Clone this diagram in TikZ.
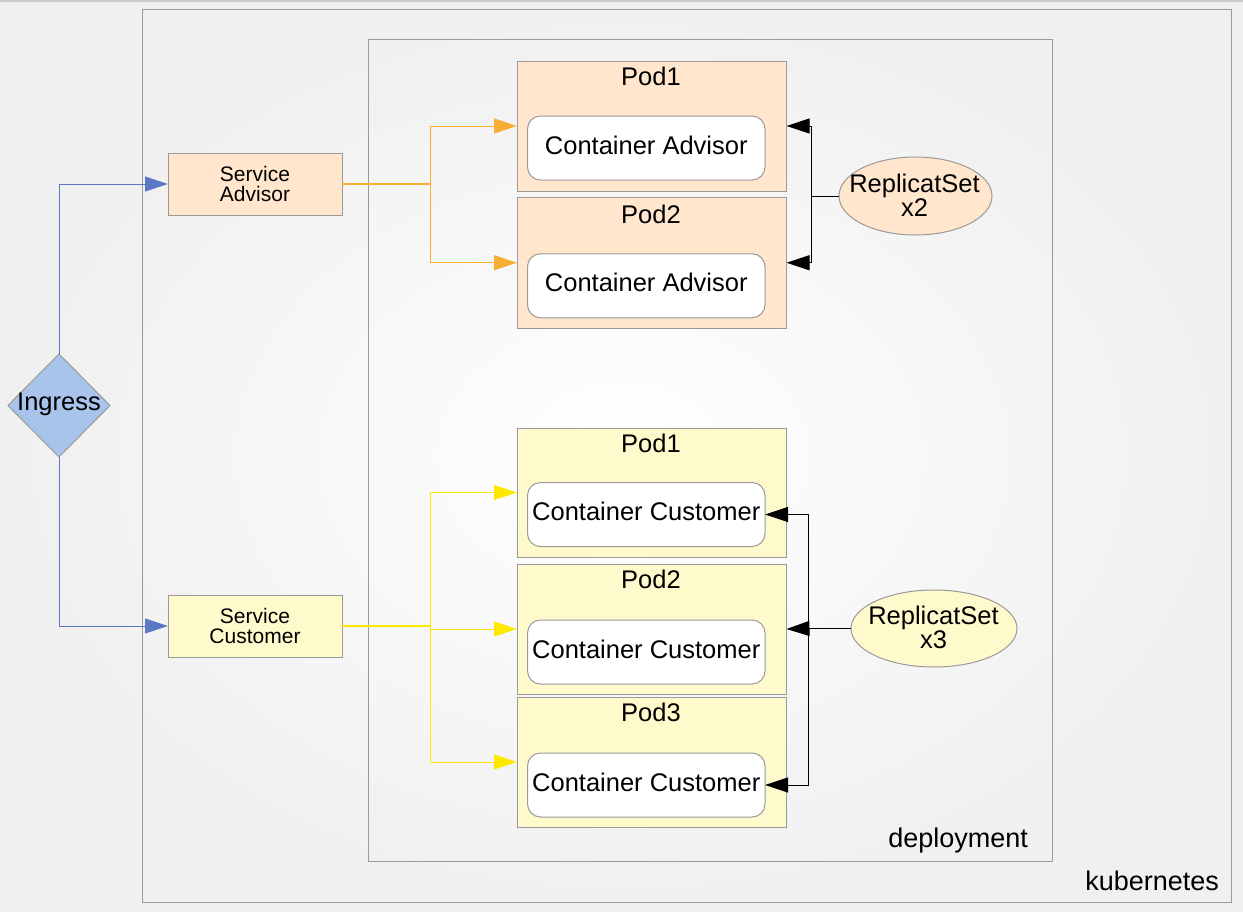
\documentclass[tikz,border=0pt]{standalone}
\usepackage{fontspec}
\setmainfont{Liberation Sans}
\usetikzlibrary{shapes.geometric,arrows.meta}
\definecolor{peach}{HTML}{FFE6CC}
\definecolor{lyellow}{HTML}{FFFACC}
\definecolor{framegray}{HTML}{9A9A9A}
\definecolor{ingfill}{HTML}{A9C4EB}
\definecolor{blueline}{HTML}{5A78C4}
\definecolor{bluehead}{HTML}{1E3C96}
\definecolor{orangeline}{HTML}{F8AE35}
\definecolor{orangehead}{HTML}{F7A21B}
\definecolor{yellowline}{HTML}{FFE800}
\begin{document}
\begin{tikzpicture}[x=1bp,y=-1bp,
  every node/.style={outer sep=0pt, inner sep=0pt},
  bigfont/.style={font=\fontsize{25.5bp}{24bp}\selectfont},
  frameline/.style={draw=framegray, line width=1bp},
  framebox/.style={frameline, rectangle},
  framelbl/.style={font=\fontsize{27bp}{27bp}\selectfont},
  svcbox/.style={frameline, rectangle, minimum width=174bp, minimum height=62bp, align=center, font=\fontsize{21bp}{20bp}\selectfont},
  podbox/.style={frameline, rectangle, minimum width=269.5bp, minimum height=130bp},
  contbox/.style={frameline, rectangle, rounded corners=13bp, fill=white, minimum width=237.5bp, minimum height=64bp, bigfont, text height=18bp, text depth=6bp},
  rsell/.style={frameline, ellipse},
  rstext/.style={align=center, bigfont},
  tip/.style={-{Triangle[length=23bp,width=15bp]}},
  blueconn/.style={draw=blueline, line width=1bp, tip, color=bluehead, draw=blueline},
  orconn/.style={draw=orangeline, line width=1bp},
  yeconn/.style={draw=yellowline, line width=1bp},
  blkconn/.style={draw=black, line width=1bp}
]
\useasboundingbox (0,0) rectangle (1243,912);
\shade[inner color=white, outer color=black!6] (0,0) rectangle (1243,912);
\fill[black!20] (0,0) rectangle (1243,2);

% frames
\node[framebox, minimum width=1089bp, minimum height=892.5bp] (kube) at (687,455.75) {};
\node[framelbl, anchor=east] (kubelbl) at (1219,881) {kubernetes};
\node[framebox, minimum width=683.5bp, minimum height=821bp] (dep) at (710.25,450.5) {};
\node[framelbl, anchor=east] (deplbl) at (1028,841) {deployment};

% services
\node[svcbox, fill=peach] (sa) at (255,184) {Service\\Advisor};
\node[svcbox, fill=lyellow] (sc) at (255,626) {Service\\Customer};

% ingress
\node[frameline, diamond, fill=ingfill, minimum width=102bp, minimum height=103bp] (ing) at (59,405.5) {};
\node[bigfont] (inglbl) at (59,404) {Ingress};

% advisor pods
\node[podbox, fill=peach] (ap1) at (651.75,126) {};
\node[bigfont] (ap1t) at (651,76) {Pod1};
\node[contbox] (ac1) at (646.25,148) {Container Advisor};
\node[podbox, fill=peach, minimum height=130.5bp] (ap2) at (651.75,262.75) {};
\node[bigfont] (ap2t) at (651,214) {Pod2};
\node[contbox] (ac2) at (646.25,285.75) {Container Advisor};

% customer pods
\node[podbox, fill=lyellow, minimum height=129bp] (cp1) at (651.75,492.5) {};
\node[bigfont] (cp1t) at (651,443) {Pod1};
\node[contbox] (cc1) at (646.25,514.5) {Container Customer};
\node[podbox, fill=lyellow] (cp2) at (651.75,629) {};
\node[bigfont] (cp2t) at (651,579) {Pod2};
\node[contbox] (cc2) at (646.25,652) {Container Customer};
\node[podbox, fill=lyellow] (cp3) at (651.75,762) {};
\node[bigfont] (cp3t) at (651,712) {Pod3};
\node[contbox] (cc3) at (646.25,785) {Container Customer};

% replica sets
\node[rsell, fill=peach, minimum width=153bp, minimum height=78bp] (rs2) at (915.5,196) {};
\node[rstext] (rs2t) at (914.5,195.5) {ReplicatSet\\x2};
\node[rsell, fill=lyellow, minimum width=166bp, minimum height=77bp] (rs3) at (934,628.5) {};
\node[rstext] (rs3t) at (933.5,627.5) {ReplicatSet\\x3};

% ingress connectors
\draw[blueconn] (ing.north) |- (sa.west);
\draw[blueconn] (ing.south) |- (sc.west);

% advisor service connectors
\coordinate (oj) at (430,184);
\draw[orconn, line width=1.6bp] (sa.east) -- (oj);
\draw[orconn, tip, color=orangehead, draw=orangeline] (oj) |- (ap1.west);
\draw[orconn, tip, color=orangehead, draw=orangeline] (oj) |- (ap2.west);

% customer service connectors
\coordinate (yj) at (430,626);
\draw[yeconn, line width=1.6bp] (sc.east) -- (yj);
\draw[yeconn, tip, color=yellowline] (yj) |- (cp1.west);
\draw[yeconn, tip, color=yellowline] (yj) |- (cp2.west);
\draw[yeconn, tip, color=yellowline] (yj) |- (cp3.west);

% replica set x2 connectors
\coordinate (bj2) at (811.5,196);
\draw[blkconn] (rs2.west) -- (bj2);
\draw[blkconn, tip] (bj2) |- (ap1.east);
\draw[blkconn, tip] (bj2) |- (ap2.east);

% replica set x3 connectors
\coordinate (bj3) at (808.5,628.5);
\draw[blkconn, line width=1.5bp] (rs3.west) -- (bj3);
\draw[blkconn, tip] (bj3) |- (cc1.east);
\draw[blkconn, tip] (bj3) -- (cp2.east);
\draw[blkconn, tip] (bj3) |- (cc3.east);
\end{tikzpicture}
\end{document}
